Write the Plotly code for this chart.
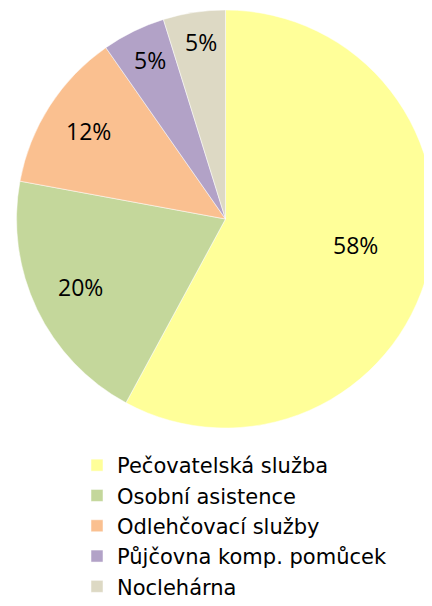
import math
import plotly.graph_objects as go

labels = ["Pečovatelská služba", "Osobní asistence", "Odlehčovací služby",
          "Půjčovna komp. pomůcek", "Noclehárna"]
values = [57.9, 20.0, 12.4, 4.9, 4.8]
colors = ["#FFFF99", "#C4D79B", "#FAC090", "#B2A2C7", "#DDD9C4"]
# placement of each percentage label: fraction of radius, angular nudge (deg)
label_radius = [0.634, 0.765, 0.78, 0.84, 0.855]
label_nudge = [-3.0, 0.5, 0.0, 0.8, 0.6]

W, H = 432, 606
CX, CY, R = 217.5, 211.0, 209.0  # pie centre / radius in figure pixels

fig = go.Figure(go.Pie(
    labels=labels, values=values, sort=False, direction="clockwise", rotation=0,
    marker=dict(colors=colors, line=dict(color="white", width=0.5)),
    textinfo="none",
    domain=dict(x=[(CX - R) / W, (CX + R) / W], y=[1 - (CY + R) / H, 1 - (CY - R) / H]),
    hoverinfo="skip",
))

total = sum(values)
cum = 0.0
annotations = []
for v, f, d in zip(values, label_radius, label_nudge):
    mid = (cum + v / 2) / total * 2 * math.pi + math.radians(d)
    cum += v
    px = CX + f * R * math.sin(mid)
    py = CY - f * R * math.cos(mid)
    annotations.append(dict(
        x=px / W, y=1 - py / H, xref="paper", yref="paper",
        text=f"{round(v / total * 100)}%", showarrow=False,
        xanchor="center", yanchor="middle",
        font=dict(family="Open Sans", size=23, color="black"),
    ))

fig.update_layout(
    width=W, height=H, margin=dict(l=0, r=0, t=0, b=0),
    paper_bgcolor="white", plot_bgcolor="white",
    showlegend=True,
    annotations=annotations,
    legend=dict(x=69 / W, y=1 - 437 / H, xanchor="left", yanchor="top",
                font=dict(family="DejaVu Sans", size=21, color="black"),
                itemclick=False, tracegroupgap=0),
)
fig.write_html("out.html")
